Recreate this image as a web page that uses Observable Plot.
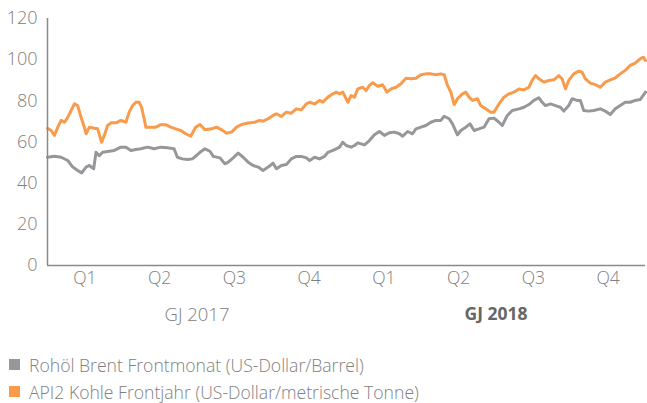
<!DOCTYPE html>
<html><head><meta charset="utf-8">
<script src="https://cdn.jsdelivr.net/npm/d3@7"></script>
<script src="https://cdn.jsdelivr.net/npm/@observablehq/plot@0.6"></script>
<style>
body{margin:0;background:#fff;font-family:"Open Sans",sans-serif;}
#chart svg{display:block;}
.legend{margin:19px 0 0 9px;font-size:17.6px;color:#808080;font-weight:300;}
.legend div{display:flex;align-items:center;height:27px;}
.legend span.sw{display:inline-block;width:11px;height:11px;margin-right:9px;}
</style></head><body>
<div id="chart"></div>
<div class="legend" id="legend"></div>
<script>
// time in quarters since start of GJ 2017
const seriesNames = ["Rohöl Brent Frontmonat (US-Dollar/Barrel)", "API2 Kohle Frontjahr (US-Dollar/metrische Tonne)"];
const seriesColors = ["#96979a", "#f99b4b"];
const quarterTicks = [0.5,1.5,2.5,3.5,4.5,5.5,6.5,7.5];
const quarterLabels = ["Q1","Q2","Q3","Q4","Q1","Q2","Q3","Q4"];
const yearTicks = [2, 6];
const yearLabels = ["GJ 2017", "GJ 2018"];
const yTicks = [0,20,40,60,80,100,120];

const brent = [
[0.00,52.6],[0.093,53.1],[0.182,52.6],[0.271,51],[0.338,47.8],[0.404,46.2],[0.458,45],[0.516,47.8],[0.56,48.6],[0.618,47],
[0.649,55],[0.693,53.4],[0.738,55],[0.804,55.4],[0.893,55.9],[0.982,57.5],[1.049,57.5],[1.116,55.9],[1.182,56.4],[1.249,56.7],
[1.338,57.5],[1.427,56.7],[1.516,57.5],[1.604,57.2],[1.693,56.7],[1.738,52.6],[1.804,51.8],[1.871,51.5],[1.938,51.8],[2.004,53.8],
[2.04,55],[2.107,56.7],[2.173,55.5],[2.218,53],[2.307,52.3],[2.373,49.4],[2.418,50.2],[2.484,52.3],[2.551,54.6],[2.618,52.6],
[2.684,50.2],[2.751,48.6],[2.818,47.8],[2.884,46.2],[2.951,47.8],[3.018,49.7],[3.062,47],[3.129,48.6],[3.196,49.1],[3.262,51.8],
[3.329,53],[3.396,53],[3.462,52.3],[3.507,51],[3.573,52.6],[3.64,51.8],[3.707,53],[3.751,55],[3.818,55.9],[3.862,56.7],
[3.907,57.5],[3.951,59.9],[3.996,58.3],[4.062,57.5],[4.107,58.3],[4.151,59.6],[4.24,58.6],[4.307,60.7],[4.373,63.5],[4.44,65.1],
[4.507,63.2],[4.573,64.5],[4.64,64.8],[4.707,64],[4.751,62.8],[4.818,65.1],[4.884,64],[4.929,66.4],[4.996,67.2],[5.062,68],
[5.129,69.6],[5.196,70.5],[5.262,70.5],[5.307,72.5],[5.373,71.3],[5.418,68.8],[5.484,63.5],[5.529,65.6],[5.596,67.2],[5.653,68.8],
[5.707,65.6],[5.773,66.4],[5.84,67.2],[5.907,71.3],[5.973,71.6],[6.04,69.6],[6.084,68],[6.151,72.9],[6.218,75.3],[6.307,76.1],
[6.373,76.9],[6.44,78.2],[6.507,80.2],[6.573,81.5],[6.618,79.3],[6.662,77.7],[6.729,78.5],[6.796,77.7],[6.862,76.9],[6.907,75],
[6.973,77.7],[7.018,81],[7.084,80.2],[7.129,80.2],[7.173,75.3],[7.24,75],[7.307,75.3],[7.396,76.1],[7.462,75],[7.529,73.4],
[7.596,76.1],[7.662,77.7],[7.729,79.3],[7.796,79.3],[7.862,80.2],[7.929,80.6],[8.0,84.2]
];

const api2 = [
[0.00,66.7],[0.049,65.6],[0.093,63.2],[0.138,67.2],[0.182,70.5],[0.227,69.6],[0.271,72],[0.316,75.3],[0.36,78.5],[0.404,77.7],
[0.449,72],[0.493,67.2],[0.516,64],[0.56,67.2],[0.627,66.7],[0.671,66.4],[0.724,59.9],[0.76,63.2],[0.804,68],[0.849,69.3],
[0.916,69.3],[0.982,70.5],[1.049,69.6],[1.093,74.5],[1.138,77.7],[1.182,79.3],[1.227,79.3],[1.258,76.9],[1.293,71.3],[1.316,67.2],
[1.382,67.2],[1.449,67.2],[1.516,68.4],[1.582,68.4],[1.649,67.2],[1.716,66.4],[1.782,65.6],[1.849,64],[1.916,62.8],[1.982,67.2],
[2.04,68.5],[2.107,65.9],[2.196,66.4],[2.262,67.2],[2.329,65.9],[2.396,64.3],[2.462,64.8],[2.529,67.2],[2.596,68.5],[2.684,69.2],
[2.773,69.6],[2.84,70.5],[2.884,70.1],[2.951,71.3],[3.018,72.9],[3.062,73.7],[3.129,72.4],[3.196,74.5],[3.262,74],[3.329,76.1],
[3.396,75.6],[3.462,78.5],[3.507,79.3],[3.573,78.5],[3.64,80.2],[3.684,79.3],[3.751,81.8],[3.818,83.4],[3.862,84.2],[3.907,83.4],
[3.951,84.2],[4.018,79.3],[4.062,82.6],[4.107,81.8],[4.151,85.8],[4.218,86.6],[4.262,85],[4.307,87.5],[4.351,88.8],[4.418,87.1],
[4.484,87.8],[4.542,84.2],[4.596,85.8],[4.662,86.6],[4.729,88.3],[4.796,91],[4.862,90.7],[4.929,91],[4.996,92.7],[5.062,93.1],
[5.129,93.1],[5.196,92.7],[5.262,93.1],[5.307,92.7],[5.351,87.5],[5.396,84.2],[5.44,78.1],[5.484,81],[5.551,83.4],[5.596,84.2],
[5.64,81.8],[5.684,80.2],[5.751,81],[5.796,77.7],[5.862,76.1],[5.929,74.5],[5.973,74.5],[6.04,78.5],[6.107,81.8],[6.173,83.4],
[6.24,84.2],[6.307,85.8],[6.373,85.3],[6.44,86.6],[6.484,89.9],[6.529,92.3],[6.573,90.7],[6.64,89.1],[6.707,89.9],[6.773,90.2],
[6.84,92.3],[6.884,90.7],[6.929,85.8],[6.973,89.9],[7.04,93.1],[7.107,94.4],[7.151,93.9],[7.196,90.7],[7.262,88.6],[7.329,87.9],
[7.396,86.6],[7.462,89.1],[7.529,90.2],[7.596,91.2],[7.662,93.1],[7.729,94.8],[7.796,97.2],[7.862,98.3],[7.929,100.4],[7.973,101.2],[8.0,99.6]
];

const rows = [
  ...brent.map(([t,v]) => ({t, v, s: seriesNames[0]})),
  ...api2.map(([t,v]) => ({t, v, s: seriesNames[1]}))
];

const textColor = "#808080";
const chart = Plot.plot({
  width: 647,
  height: 332,
  marginTop: 18,
  marginBottom: 67,
  marginLeft: 47,
  marginRight: 2,
  style: {fontFamily: "'Open Sans', sans-serif", fontSize: "17px", color: textColor, fontWeight: 300, background: "#fff"},
  x: {domain: [0, 8]},
  y: {domain: [0, 120]},
  color: {domain: seriesNames, range: seriesColors},
  marks: [
    Plot.axisY({ticks: yTicks, tickSize: 0, tickPadding: 10, label: null, fontSize: 18}),
    Plot.axisX({ticks: quarterTicks, tickFormat: (d, i) => quarterLabels[i], tickSize: 0, tickPadding: 6, label: null, fontSize: 17.5}),
    Plot.axisX({ticks: [yearTicks[0]], tickFormat: () => yearLabels[0], tickSize: 0, tickPadding: 42, label: null, fontSize: 18.5}),
    Plot.axisX({ticks: [yearTicks[1]], tickFormat: () => yearLabels[1], tickSize: 0, tickPadding: 42, label: null, fontSize: 17.5, fontWeight: "bold", fill: "#666"}),
    Plot.line(rows, {x: "t", y: "v", z: "s", stroke: "s", strokeWidth: 3, strokeLinejoin: "round"}),
    Plot.ruleY([0], {stroke: "#8a8a8a", strokeWidth: 1.5}),
    Plot.ruleX([0], {stroke: "#8a8a8a", strokeWidth: 1.5})
  ]
});
document.getElementById("chart").appendChild(chart);

const legend = document.getElementById("legend");
seriesNames.forEach((name, i) => {
  const row = document.createElement("div");
  const sw = document.createElement("span");
  sw.className = "sw";
  sw.style.background = seriesColors[i];
  row.appendChild(sw);
  row.appendChild(document.createTextNode(name));
  legend.appendChild(row);
});
</script>
</body></html>
